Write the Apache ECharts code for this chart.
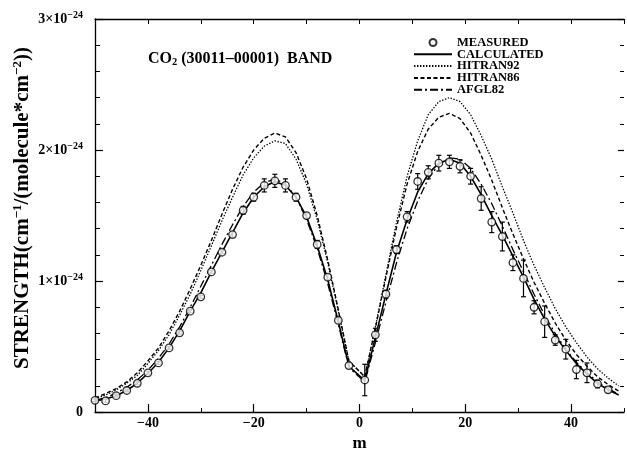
<!DOCTYPE html>
<html>
<head>
<meta charset="utf-8">
<script src="https://cdn.jsdelivr.net/npm/echarts@6/dist/echarts.min.js"></script>
<style>html,body{margin:0;padding:0;background:#fff;}#c{width:627px;height:457px;}</style>
</head>
<body>
<div id="c"></div>
<script>
// m values for the line curves (P branch even negative, R branch odd positive)
const mLine = [-50,-48,-46,-44,-42,-40,-38,-36,-34,-32,-30,-28,-26,-24,-22,-20,-18,-16,-14,-12,-10,-8,-6,-4,-2,
               1,3,5,7,9,11,13,15,17,19,21,23,25,27,29,31,33,35,37,39,41,43,45,47,49];
// values in units of 1e-24 cm^-1/(molecule*cm^-2)
const calculated = [0.085,0.10,0.125,0.165,0.22,0.295,0.38,0.49,0.62,0.77,0.91,1.07,1.22,1.37,1.52,1.64,1.72,1.76,1.73,1.64,1.49,1.27,1.01,0.69,0.35,
                    0.24,0.57,0.90,1.22,1.47,1.68,1.82,1.90,1.93,1.90,1.80,1.66,1.50,1.35,1.19,1.03,0.86,0.71,0.58,0.47,0.37,0.29,0.22,0.17,0.13];
const hitran92 = [0.10,0.13,0.17,0.22,0.28,0.37,0.47,0.59,0.74,0.90,1.08,1.27,1.46,1.64,1.81,1.94,2.03,2.07,2.05,1.93,1.74,1.47,1.14,0.77,0.39,
                  0.27,0.65,1.05,1.45,1.80,2.07,2.27,2.37,2.40,2.37,2.27,2.11,1.93,1.72,1.52,1.31,1.12,0.95,0.79,0.65,0.53,0.42,0.33,0.26,0.20];
const hitran86 = [0.11,0.14,0.18,0.23,0.30,0.39,0.49,0.62,0.77,0.94,1.12,1.31,1.51,1.70,1.87,2.00,2.09,2.13,2.10,1.98,1.78,1.50,1.16,0.78,0.39,
                  0.27,0.64,1.03,1.41,1.74,1.99,2.16,2.25,2.28,2.24,2.13,1.96,1.77,1.56,1.36,1.17,0.99,0.83,0.68,0.55,0.44,0.35,0.27,0.21,0.16];
const afgl82 = [0.09,0.11,0.145,0.19,0.245,0.32,0.41,0.52,0.65,0.80,0.96,1.12,1.28,1.43,1.57,1.68,1.75,1.78,1.74,1.64,1.47,1.25,0.98,0.67,0.34,
                0.23,0.53,0.84,1.14,1.40,1.61,1.78,1.89,1.94,1.93,1.86,1.74,1.59,1.42,1.24,1.07,0.90,0.74,0.60,0.48,0.38,0.30,0.23,0.18,0.135];

const mMeasured = [-50,-48,-46,-44,-42,-40,-38,-36,-34,-32,-30,-28,-26,-24,-22,-20,-18,-16,-14,-12,-10,-8,-6,-4,-2,
                   1,3,5,7,9,11,13,15,17,19,21,23,25,27,29,31,33,35,37,39,41,43,45,47];
const measured = [0.09,0.085,0.125,0.165,0.22,0.30,0.375,0.49,0.605,0.77,0.88,1.07,1.22,1.355,1.54,1.64,1.73,1.765,1.73,1.64,1.50,1.28,1.03,0.70,0.355,
                  0.245,0.59,0.90,1.24,1.49,1.76,1.83,1.90,1.91,1.876,1.80,1.63,1.45,1.34,1.14,1.02,0.80,0.69,0.55,0.48,0.325,0.30,0.215,0.17];
const measuredErr = [0.01,0.01,0.01,0.01,0.01,0.01,0.01,0.01,0.01,0.01,0.01,0.01,0.01,0.02,0.03,0.03,0.05,0.05,0.05,0.03,0.02,0.03,0.02,0.02,0.02,
                     0.12,0.05,0.03,0.03,0.04,0.06,0.05,0.06,0.05,0.05,0.06,0.09,0.08,0.11,0.06,0.14,0.05,0.12,0.04,0.075,0.07,0.075,0.03,0.02];

const xMajorLabels = [-40,-20,0,20,40];
const yLabels = [0,1,2,3];

const FONT = 'Liberation Serif';
const pairs = (xs, ys) => xs.map((x, i) => [x, ys[i]]);
const fmtMinus = v => String(v).replace('-', '\u2212');
const hiddenSym = {opacity: 0, borderWidth: 0, color: 'rgba(0,0,0,0)'};

const chart = echarts.init(document.getElementById('c'));
const xBase = {min: -50, max: 50, interval: 10, gridIndex: 0};
chart.setOption({
  animation: false,
  backgroundColor: '#fff',
  grid: {left: 95, right: 0, top: 19, bottom: 35},
  legend: {
    orient: 'vertical', left: 413, top: 36, padding: 0, itemWidth: 38, itemHeight: 7, itemGap: -1.2,
    textStyle: {fontFamily: FONT, fontWeight: 'bold', fontSize: 12.5, color: '#000', lineHeight: 11.5},
    data: [
      {name: 'MEASURED', icon: 'circle'},
      {name: 'CALCULATED', itemStyle: hiddenSym},
      {name: 'HITRAN92', itemStyle: hiddenSym},
      {name: 'HITRAN86', itemStyle: hiddenSym},
      {name: 'AFGL82', itemStyle: hiddenSym}
    ]
  },
  graphic: [
    {type: 'text', x: 148, y: 50, style: {
      text: 'CO{sub|2} (30011\u201300001)  BAND', fill: '#000',
      font: 'bold 16px "Liberation Serif"',
      rich: {sub: {fontSize: 10.5, fontWeight: 'bold', fontFamily: FONT, padding: [7, 0, 0, 0]}}
    }},
    {type: 'text', x: 23, y: 208, rotation: Math.PI / 2, style: {
      text: 'STRENGTH(cm{s|\u22121}/(molecule*cm{s|\u22122}))', fill: '#000',
      font: 'bold 21px "Liberation Serif"', align: 'center', verticalAlign: 'middle',
      rich: {s: {fontSize: 13, fontWeight: 'bold', fontFamily: FONT, padding: [0, 0, 10, 0]}}
    }}
  ],
  xAxis: [
    Object.assign({}, xBase, {
      type: 'value', position: 'bottom',
      name: 'm', nameLocation: 'middle', nameGap: 15,
      nameTextStyle: {fontFamily: FONT, fontWeight: 'bold', fontSize: 17, color: '#000'},
      axisLine: {show: true, onZero: false, lineStyle: {color: '#000', width: 1.3}},
      axisTick: {show: true, inside: true, length: 4, lineStyle: {color: '#000', width: 1}},
      axisLabel: {
        margin: 4, color: '#000', fontFamily: FONT, fontWeight: 'bold', fontSize: 14,
        formatter: v => xMajorLabels.includes(v) ? fmtMinus(v) : ''
      },
      splitLine: {show: false}
    }),
    Object.assign({}, xBase, {
      type: 'value', position: 'bottom',
      axisLine: {show: false, onZero: false},
      axisTick: {show: true, inside: true, length: 8, customValues: xMajorLabels, lineStyle: {color: '#000', width: 1.2}},
      axisLabel: {show: false}, splitLine: {show: false}
    }),
    Object.assign({}, xBase, {
      type: 'value', position: 'top',
      axisLine: {show: true, onZero: false, lineStyle: {color: '#000', width: 1.3}},
      axisTick: {show: true, inside: true, length: 5, lineStyle: {color: '#000', width: 1}},
      axisLabel: {show: false}, splitLine: {show: false}
    })
  ],
  yAxis: [
    {
      type: 'value', min: 0, max: 3, interval: 1, position: 'left',
      axisLine: {show: true, onZero: false, lineStyle: {color: '#000', width: 1.3}},
      axisTick: {show: true, inside: true, length: 8, lineStyle: {color: '#000', width: 1.2}},
      minorTick: {show: true, splitNumber: 5, length: 5, lineStyle: {color: '#000', width: 1}},
      axisLabel: {
        margin: 12, color: '#000', fontFamily: FONT, fontWeight: 'bold', fontSize: 14,
        formatter: v => v === 0 ? '0' : v + '\u00d710{s|\u221224}',
        rich: {s: {fontSize: 10, fontWeight: 'bold', fontFamily: FONT, padding: [0, 0, 8, 0]}}
      },
      splitLine: {show: false}, minorSplitLine: {show: false}
    },
    {
      type: 'value', min: 0, max: 3, interval: 1, position: 'right',
      axisLine: {show: false, onZero: false},
      axisTick: {show: true, inside: true, length: 6, lineStyle: {color: '#000', width: 1.2}},
      minorTick: {show: true, splitNumber: 5, length: 4, lineStyle: {color: '#000', width: 1}},
      axisLabel: {show: false}, splitLine: {show: false}
    }
  ],
  series: [
    {name: 'HITRAN92', type: 'line', symbol: 'none', data: pairs(mLine, hitran92),
     lineStyle: {color: '#000', width: 1.3, type: [1.4, 1.6]}, itemStyle: {color: '#000'}, z: 2},
    {name: 'HITRAN86', type: 'line', symbol: 'none', data: pairs(mLine, hitran86),
     lineStyle: {color: '#000', width: 1.4, type: [4, 2.5]}, itemStyle: {color: '#000'}, z: 2},
    {name: 'AFGL82', type: 'line', symbol: 'none', data: pairs(mLine, afgl82),
     lineStyle: {color: '#000', width: 1.3, type: [8, 3, 2, 3]}, itemStyle: {color: '#000'}, z: 2},
    {name: 'CALCULATED', type: 'line', symbol: 'none', data: pairs(mLine, calculated),
     lineStyle: {color: '#000', width: 1.6, type: 'solid'}, itemStyle: {color: '#000'}, z: 3},
    {name: 'errorbars', type: 'custom', z: 4,
     data: mMeasured.map((m, i) => [m, measured[i] - measuredErr[i], measured[i] + measuredErr[i]]),
     renderItem: (params, api) => {
       const lo = api.coord([api.value(0), api.value(1)]);
       const hi = api.coord([api.value(0), api.value(2)]);
       const st = {stroke: '#000', lineWidth: 1.2};
       const cw = 2.5;
       return {type: 'group', children: [
         {type: 'line', shape: {x1: lo[0], y1: lo[1], x2: hi[0], y2: hi[1]}, style: st},
         {type: 'line', shape: {x1: lo[0] - cw, y1: lo[1], x2: lo[0] + cw, y2: lo[1]}, style: st},
         {type: 'line', shape: {x1: hi[0] - cw, y1: hi[1], x2: hi[0] + cw, y2: hi[1]}, style: st}
       ]};
     }},
    {name: 'MEASURED', type: 'scatter', symbol: 'circle', symbolSize: 7.5, z: 5,
     data: pairs(mMeasured, measured),
     itemStyle: {color: '#fff', borderColor: '#000', borderWidth: 1.3}}
  ]
});
</script>
</body>
</html>
